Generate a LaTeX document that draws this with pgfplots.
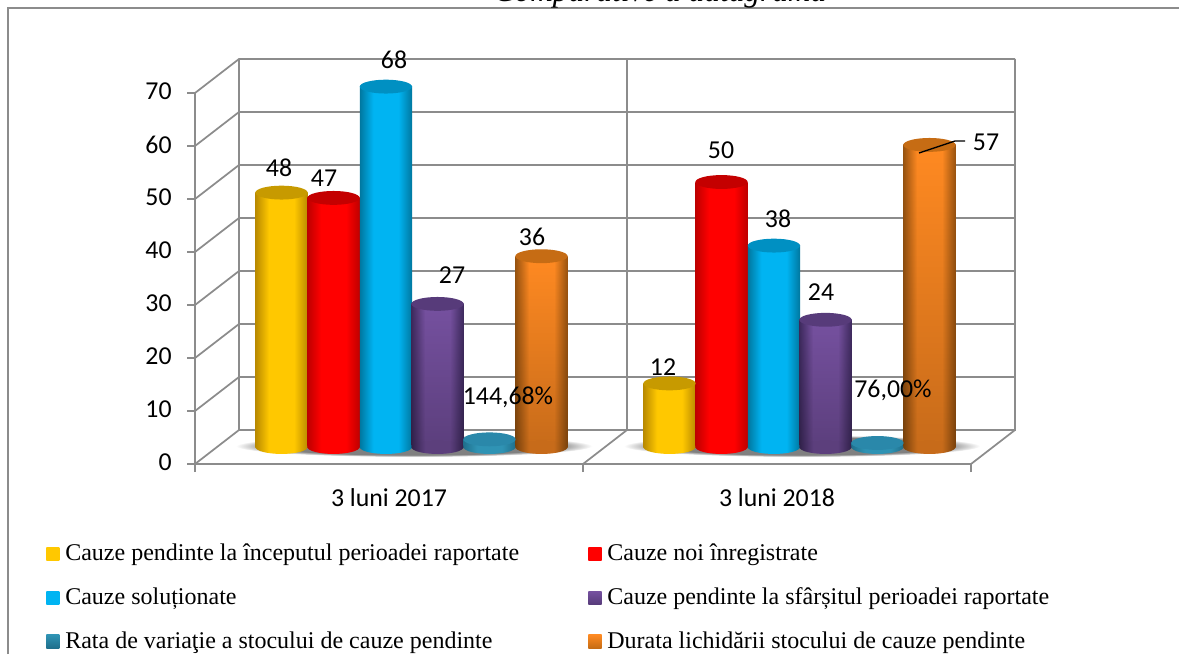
\documentclass[border=0pt]{standalone}
\usepackage{fontspec}
\setmainfont{Carlito}
\newfontfamily\leg{Liberation Serif}
\usepackage{pgfplots}
\usepackage{pgfplotstable}
\usetikzlibrary{fadings}
\pgfplotsset{compat=1.18}

\definecolor{gridc}{HTML}{8C8C8C}
\definecolor{shadowc}{HTML}{808080}

% one px of the reference is 0.75pt
\pgfdeclareradialshading{floorshadow}{\pgfpoint{0bp}{0bp}}{color(0bp)=(shadowc); color(20bp)=(shadowc); color(25bp)=(white); color(50bp)=(white)}

% name, edge colour, middle colour, lid colour, darkening towards the floor
\newcommand\defcyl[5]{%
  \definecolor{#1edge}{HTML}{#2}\definecolor{#1mid}{HTML}{#3}\definecolor{#1top}{HTML}{#4}%
  \expandafter\def\csname dark#1\endcsname{#5}%
  \pgfdeclarehorizontalshading{shade#1}{100bp}{color(0bp)=(#1edge); color(25bp)=(#1edge); color(38bp)=(#1mid); color(62bp)=(#1mid); color(75bp)=(#1edge); color(100bp)=(#1edge)}%
  \pgfdeclareplotmark{base#1}{%
    \shade[draw=none,shading=shade#1,rotate=3] (canvas cs:x=0pt,y=0pt) ellipse (19.6pt and 5.2pt);
    \fill[draw=none,black,fill opacity=#5,rotate=3] (canvas cs:x=0pt,y=0pt) ellipse (19.6pt and 5.2pt);}%
  \pgfdeclareplotmark{lid#1}{\fill[draw=none,#1top,rotate=3] (canvas cs:x=0pt,y=0pt) ellipse (19.6pt and 5.2pt);}%
}
\defcyl{yel}{B98A00}{FFC800}{C79A00}{0}
\defcyl{red}{BE0000}{FF0000}{C40000}{0}
\defcyl{blu}{00779F}{00B4F2}{0090C2}{0}
\defcyl{pur}{3E2A5E}{7651A0}{573B7A}{0.22}
\defcyl{tea}{1F6F8C}{2F93B4}{2A88AA}{0}
\defcyl{ora}{9A5410}{FF8A22}{C66C14}{0.22}

\pgfplotstableread{
x yel red blu pur tea ora
0 48 47 68 27 1.4468 36
1 12 50 38 24 0.76 57
}\causes

% series, shift of the bar from the group centre; each bar on its own so that the shading fits it
\newcommand\cyl[2]{%
  \foreach \k/\s in {1/2,0/1} {
    \edef\temp{\noexpand\addplot[ybar,bar width=39.2pt,bar shift=0pt,draw=none,shade,shading=shade#1,forget plot]
      table[x expr=\noexpand\thisrow{x}+#2,y=#1,skip coords between index={\k}{\s}]{\noexpand\causes};
      \noexpand\addplot[ybar,bar width=39.2pt,bar shift=0pt,draw=none,fill=black,fill opacity=\csname dark#1\endcsname,path fading=north,forget plot]
      table[x expr=\noexpand\thisrow{x}+#2,y=#1,skip coords between index={\k}{\s}]{\noexpand\causes};}
    \temp
  }
  \addplot[only marks,mark=base#1,forget plot]
    table[x expr=\thisrow{x}+#2,y expr=0]{\causes};
  \addplot[only marks,mark=lid#1,forget plot]
    table[x expr=\thisrow{x}+#2,y=#1]{\causes};
}
\newcommand\swatch[2]{\addlegendimage{legend image code/.code={\shade[draw=none,top color=#1,bottom color=#2] (canvas cs:x=0pt,y=-5.5pt) rectangle (canvas cs:x=9.8pt,y=4.5pt);\path (canvas cs:x=12pt,y=0pt);}}}

\begin{document}
\begin{tikzpicture}[x=0.75pt,y=-0.75pt]
\path[use as bounding box,clip] (0,0) rectangle (1179,654);
\fill[white] (0,0) rectangle (1179,654);

% outer chart border and the cut off heading
\draw[gridc,line width=1.2pt] (8,654) -- (8,8) -- (1179,8);
\node[anchor=base,inner sep=0pt,font=\leg\itshape\fontsize{23.5}{28}\selectfont] at (660,1) {Comparative a datagrama};

% walls and floor
\begin{scope}[gridc,line width=1.3pt]
\foreach \i in {1,...,7} {
  \draw (195,464-53*\i) -- (239,430-53*\i) -- (1015,430-53*\i);
}
\draw (239,59) -- (239,430) -- (1015,430) -- (1015,59);
\draw (627,59) -- (627,430) -- (583,464);
\draw (239,430) -- (195,464);
\draw (1015,430) -- (971,464);
\end{scope}

% shadows on the floor
\shade[shading=floorshadow] (414,446) ellipse (178 and 11);
\shade[shading=floorshadow] (802,446) ellipse (178 and 11);

% front frame with the ticks
\begin{axis}[
  at={(146.25pt,-348pt)},anchor=south west,
  scale only axis,width=582pt,height=278.25pt,
  xmin=0,xmax=2,ymin=0,ymax=70,
  axis x line*=bottom,axis y line*=left,
  axis line style={gridc,line width=1.3pt},
  tick style={gridc,line width=1.3pt},
  tick align=outside,major tick length=6pt,
  xtick={0,1,2},x tick label as interval,
  xticklabels={3 luni 2017,3 luni 2018},
  ytick={0,10,...,70},
  /pgf/number format/assume math mode=true,
  tick label style={font=\fontsize{19.35}{23}\selectfont,black},
  yticklabel style={yshift=1pt,xshift=-8pt},
  xticklabel style={yshift=-9pt},
]
\end{axis}

% the cylinders: zero of this axis lies on the middle of the floor
\begin{axis}[
  at={(146.25pt,-348pt)},anchor=south west,
  scale only axis,width=582pt,height=278.25pt,
  xmin=-0.558,xmax=1.442,ymin=-3.208,ymax=66.792,
  axis lines=none,clip=false,
  legend columns=2,legend cell align=left,
  legend style={
    at={(-0.197,-0.201)},anchor=north west,draw=none,fill=none,
    font=\leg\fontsize{18}{21}\selectfont,
    row sep=14.6pt,
    /tikz/column 2/.style={column sep=3pt},
    /tikz/every even column/.append style={column sep=50pt},
  },
]
\cyl{yel}{-0.335}
\cyl{red}{-0.201}
\cyl{blu}{-0.066}
\cyl{pur}{0.067}
\cyl{tea}{0.201}
\cyl{ora}{0.335}
\swatch{yelmid}{yelmid}\addlegendentry{Cauze pendinte la începutul perioadei raportate}
\swatch{redmid}{redmid}\addlegendentry{Cauze noi înregistrate}
\swatch{blumid}{blumid}\addlegendentry{Cauze soluționate}
\swatch{purmid}{purtop}\addlegendentry{Cauze pendinte la sfârșitul perioadei raportate}
\swatch{teamid}{teaedge}\addlegendentry{Rata de variaţie a stocului de cauze pendinte}
\swatch{oramid}{oratop}\addlegendentry{Durata lichidării stocului de cauze pendinte}
\end{axis}

% value labels
\begin{scope}[every node/.style={font=\fontsize{19.35}{23}\selectfont,inner sep=0pt}]
\node at (279,168) {48};
\node at (324,178) {47};
\node at (394,60) {68};
\node at (452,275) {27};
\node at (508,397) {144,68\%};
\node at (532,237) {36};
\node at (663,367) {12};
\node at (721,150) {50};
\node at (778,219) {38};
\node at (821,292) {24};
\node at (893,390) {76,00\%};
\node at (986,142) {57};
\end{scope}
\draw[black,line width=1pt] (919,153) -- (955,141) -- (965,141);
\end{tikzpicture}
\end{document}
